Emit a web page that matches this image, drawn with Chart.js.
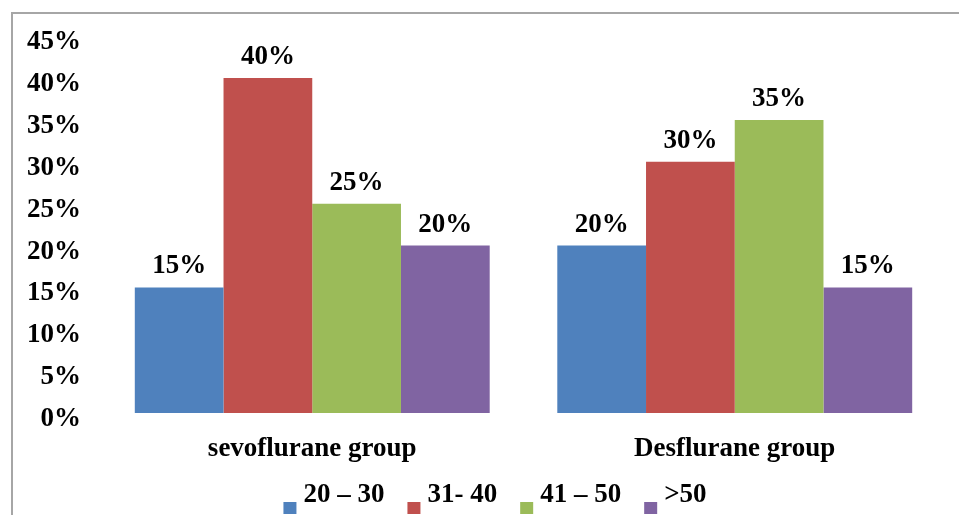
<!DOCTYPE html>
<html>
<head>
<meta charset="utf-8">
<script src="https://cdn.jsdelivr.net/npm/chart.js@4.4.1/dist/chart.umd.min.js"></script>
<style>
  html, body { margin: 0; padding: 0; background: #fff; }
  #wrap { width: 959px; height: 515px; position: relative; }
</style>
</head>
<body>
<div id="wrap"><canvas id="c" width="959" height="515"></canvas></div>
<script>
// Age distribution (%) per anaesthetic group
const groups = ["sevoflurane group", "Desflurane group"];
const ageBands = ["20 – 30", "31- 40", "41 – 50", ">50"];
const age20to30 = [15, 20];
const age31to40 = [40, 30];
const age41to50 = [25, 35];
const ageOver50 = [20, 15];
const yTicks = [0, 5, 10, 15, 20, 25, 30, 35, 40, 45];

const colors = ["#4F81BD", "#C0504D", "#9BBB59", "#8064A2"];
const FONT = "'Liberation Serif', 'Times New Roman', serif";
const FONT_SIZE = 27;

const seriesValues = [age20to30, age31to40, age41to50, ageOver50];
const datasets = ageBands.map((label, i) => ({
  label,
  data: seriesValues[i],
  backgroundColor: colors[i],
  borderWidth: 0,
  barPercentage: 1.0,
  categoryPercentage: 0.84
}));

// Light frame on the top and left edges
const framePlugin = {
  id: 'frame',
  beforeDraw(chart) {
    const ctx = chart.ctx;
    ctx.save();
    ctx.strokeStyle = '#a6a6a6';
    ctx.lineWidth = 2;
    ctx.beginPath();
    ctx.moveTo(12, 515);
    ctx.lineTo(12, 13);
    ctx.lineTo(959, 13);
    ctx.stroke();
    ctx.restore();
  }
};

// Percentage labels above each bar
const valueLabels = {
  id: 'valueLabels',
  afterDatasetsDraw(chart) {
    const ctx = chart.ctx;
    ctx.save();
    ctx.font = `bold ${FONT_SIZE}px ${FONT}`;
    ctx.fillStyle = '#000';
    ctx.textAlign = 'center';
    ctx.textBaseline = 'alphabetic';
    chart.data.datasets.forEach((ds, i) => {
      const meta = chart.getDatasetMeta(i);
      meta.data.forEach((bar, j) => {
        ctx.fillText(ds.data[j] + '%', bar.x, bar.y - 14);
      });
    });
    ctx.restore();
  }
};

// Bottom legend: small square below-left of each label
const bottomLegend = {
  id: 'bottomLegend',
  afterDraw(chart) {
    const ctx = chart.ctx;
    ctx.save();
    ctx.font = `bold ${FONT_SIZE}px ${FONT}`;
    ctx.textBaseline = 'alphabetic';
    ctx.textAlign = 'left';
    const box = 13, gapBoxText = 7, gapItems = 23;
    const items = chart.data.datasets.map(ds => ({
      label: ds.label, color: ds.backgroundColor,
      w: ctx.measureText(ds.label).width
    }));
    let total = 0;
    items.forEach((it, k) => {
      total += box + gapBoxText + it.w + (k < items.length - 1 ? gapItems : 0);
    });
    let x = 495 - total / 2;
    const baseline = 502;
    items.forEach(it => {
      ctx.fillStyle = it.color;
      ctx.fillRect(x, baseline, box, box - 1);
      x += box + gapBoxText;
      ctx.fillStyle = '#000';
      ctx.fillText(it.label, x, baseline);
      x += it.w + gapItems;
    });
    ctx.restore();
  }
};

new Chart(document.getElementById('c'), {
  type: 'bar',
  data: { labels: groups, datasets },
  options: {
    responsive: false,
    animation: false,
    layout: { padding: { left: 13, right: 13, top: 36, bottom: 44 } },
    plugins: {
      legend: { display: false },
      tooltip: { enabled: false }
    },
    scales: {
      x: {
        grid: { display: false, drawTicks: false },
        border: { display: false },
        ticks: {
          color: '#000',
          padding: 20,
          font: { family: FONT, size: FONT_SIZE, weight: 'bold' }
        },
        afterFit(s) { s.height = 58; }
      },
      y: {
        min: 0,
        max: 45,
        afterBuildTicks(s) { s.ticks = yTicks.map(v => ({ value: v })); },
        grid: { display: false, drawTicks: false },
        border: { display: false },
        ticks: {
          color: '#000',
          padding: 20,
          labelOffset: 6,
          font: { family: FONT, size: FONT_SIZE, weight: 'bold' },
          callback: v => v + '%'
        },
        afterFit(s) { s.width = 88; }
      }
    }
  },
  plugins: [framePlugin, valueLabels, bottomLegend]
});
</script>
</body>
</html>
